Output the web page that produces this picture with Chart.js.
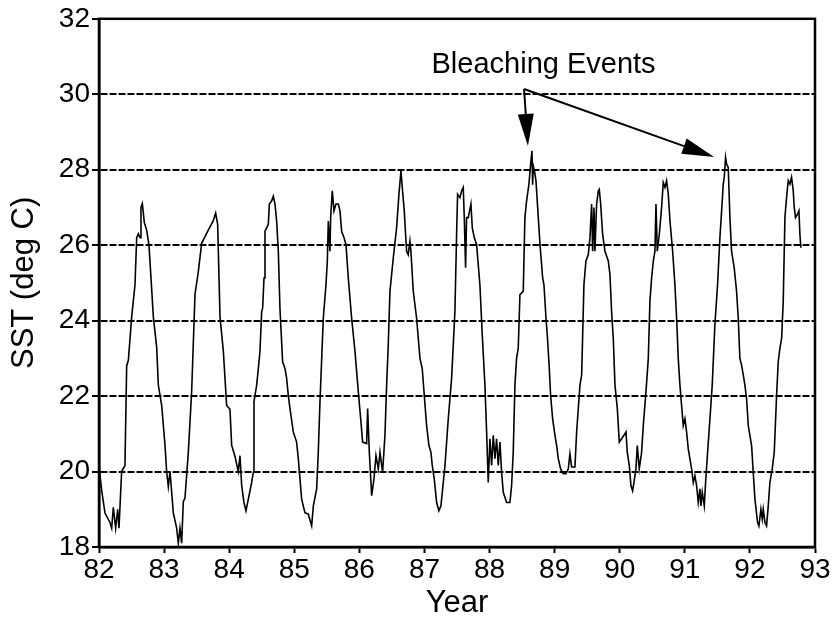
<!DOCTYPE html>
<html>
<head>
<meta charset="utf-8">
<script src="https://cdn.jsdelivr.net/npm/chart.js@4/dist/chart.umd.min.js"></script>
<style>
html,body{margin:0;padding:0;background:#fff;}
#wrap{width:834px;height:622px;}
</style>
</head>
<body>
<div id="wrap"><canvas id="c" width="834" height="622"></canvas></div>
<script>
const years = [
82.000,82.041,82.092,82.169,82.195,82.220,82.256,82.287,82.307,82.348,82.399,82.425,82.451,82.502,82.553,82.579,82.604,82.630,82.645,82.666,82.696,82.732,82.768,82.835,82.886,82.911,82.963,83.014,83.039,83.065,83.091,83.142,83.193,83.219,83.244,83.270,83.295,83.321,83.372,83.423,83.475,83.526,83.577,83.679,83.756,83.792,83.823,83.859,83.910,83.961,84.012,84.038,84.089,84.140,
84.166,84.192,84.227,84.258,84.294,84.320,84.345,84.371,84.381,84.422,84.448,84.473,84.499,84.514,84.535,84.550,84.601,84.617,84.652,84.678,84.704,84.729,84.755,84.780,84.821,84.857,84.883,84.908,84.934,84.985,85.036,85.062,85.088,85.113,85.164,85.216,85.267,85.293,85.344,85.369,85.395,85.446,85.487,85.508,85.523,85.548,85.559,85.584,85.610,85.641,85.677,85.702,85.728,85.764,85.794,85.830,85.881,85.933,85.984,86.020,86.050,86.112,86.127,86.153,86.189,86.224,86.255,86.291,86.317,86.357,86.393,86.419,
86.444,86.470,86.521,86.572,86.608,86.639,86.659,86.690,86.710,86.726,86.751,86.777,86.792,86.828,86.879,86.931,86.966,86.997,87.033,87.069,87.100,87.120,87.151,87.187,87.222,87.253,87.289,87.315,87.366,87.417,87.443,87.468,87.494,87.509,87.545,87.571,87.596,87.612,87.632,87.647,87.673,87.714,87.735,87.765,87.801,87.852,87.888,87.929,87.955,87.980,88.006,88.032,88.057,88.083,88.108,88.134,88.160,88.185,88.211,88.262,88.313,88.339,88.364,88.390,88.415,88.441,88.467,88.518,88.543,88.569,88.605,88.636,88.652,
88.662,88.672,88.690,88.713,88.749,88.775,88.816,88.836,88.867,88.887,88.918,88.938,88.969,89.005,89.031,89.056,89.092,89.133,89.174,89.210,89.235,89.261,89.312,89.338,89.389,89.415,89.450,89.481,89.517,89.543,89.568,89.584,89.604,89.619,89.645,89.671,89.686,89.707,89.737,89.773,89.824,89.850,89.875,89.901,89.927,89.963,89.993,90.029,90.065,90.096,90.116,90.147,90.172,90.198,90.219,90.249,90.270,90.300,90.336,90.362,90.403,90.439,90.464,90.490,90.516,90.541,90.557,90.577,90.608,90.643,90.669,90.695,90.720,90.746,90.772,90.813,
90.848,90.874,90.899,90.925,90.950,90.976,91.002,91.027,91.053,91.078,91.104,91.130,91.155,91.181,91.206,91.232,91.247,91.268,91.299,91.319,91.350,91.386,91.421,91.462,91.503,91.539,91.575,91.590,91.606,91.626,91.642,91.667,91.693,91.718,91.759,91.795,91.821,91.846,91.872,91.898,91.923,91.949,91.975,92.026,92.051,92.077,92.118,92.138,92.169,92.190,92.205,92.231,92.256,92.282,92.307,92.343,92.374,92.410,92.435,92.461,92.487,92.512,92.538,92.563,92.589,92.615,92.640,92.666,92.681,92.701,92.732,92.753,92.768,92.783
];
const sst = [
20.16,19.5,18.9,18.65,18.5,19.05,18.5,19.0,18.5,20.0,20.16,22.8,22.95,24.1,24.95,26.2,26.3,26.2,27.0,27.1,26.6,26.4,26.0,24.1,23.3,22.3,21.75,20.7,20.0,19.6,20.0,18.9,18.5,18.1,18.5,18.1,19.2,19.3,20.5,22.1,24.7,25.3,26.05,26.4,26.65,26.85,26.55,24.1,23.2,21.75,21.65,20.7,20.4,20.0,
20.42,19.63,19.18,18.96,19.27,19.49,19.71,19.98,21.85,22.29,22.73,23.18,24.24,24.33,25.13,26.37,26.55,27.09,27.17,27.3,27.09,26.64,25.84,24.33,22.91,22.73,22.47,22.02,21.67,21.05,20.78,20.34,19.8,19.27,18.91,18.87,18.56,19.09,19.54,20.51,21.85,24.07,24.95,25.58,26.64,25.84,26.73,27.44,26.91,27.09,27.09,26.91,26.37,26.2,26.02,25.13,24.07,23.18,22.11,21.4,20.78,20.74,21.67,20.51,19.36,19.8,20.42,20.07,20.51,19.98,20.96,22.29,
23.36,24.78,25.66,26.46,27.35,27.97,27.53,26.91,26.29,25.84,25.75,26.11,25.84,24.78,24.07,23.0,22.73,22.02,21.22,20.69,20.51,20.16,19.8,19.18,18.96,19.09,19.71,20.16,21.4,22.47,23.36,24.24,26.29,27.35,27.26,27.44,27.53,26.73,25.4,26.73,26.73,27.09,26.46,26.2,26.02,24.95,23.62,22.29,21.05,19.71,20.87,20.16,20.96,20.34,20.87,20.16,20.78,19.98,19.45,19.18,19.18,19.63,20.51,22.29,23.0,23.27,24.69,24.78,26.73,27.17,27.62,28.24,28.5,
27.6,28.1,27.97,27.71,26.73,26.02,25.13,24.95,24.07,23.62,22.73,22.02,21.4,20.96,20.69,20.34,20.07,19.94,19.94,20.07,20.47,20.12,20.12,21.05,22.29,22.56,24.95,25.58,25.75,26.2,27.09,25.84,27.0,25.84,27.09,27.44,27.48,27.09,26.29,25.84,25.58,25.22,24.24,23.53,22.29,21.67,20.78,20.87,20.96,21.05,20.51,20.16,19.63,19.49,19.71,20.07,20.69,20.07,20.51,21.22,22.11,23.0,24.51,25.13,25.58,25.84,27.09,25.84,26.29,27.0,27.66,27.53,27.71,27.35,26.64,25.84,
24.95,24.07,23.0,22.29,21.76,21.22,21.4,21.05,20.6,20.34,20.07,19.71,19.89,19.63,19.18,19.54,19.09,19.45,19.09,19.71,20.51,21.4,22.29,23.89,24.95,26.2,27.17,27.62,27.8,28.33,28.15,28.06,26.73,25.84,25.4,24.78,24.07,23.0,22.82,22.56,22.29,21.93,21.22,20.69,19.98,19.27,18.65,18.56,19.0,18.74,19.0,18.65,18.56,19.09,19.71,20.07,20.51,22.02,22.91,23.27,23.53,24.51,26.73,27.26,27.71,27.62,27.8,27.44,27.0,26.73,26.82,26.91,26.29,25.93
];
const xTickValues = [82,83,84,85,86,87,88,89,90,91,92,93];
const yTickValues = [18,20,22,24,26,28,30,32];
const xTitle = 'Year';
const yTitle = 'SST (deg C)';
const annotationText = 'Bleaching Events';
const annotationTextAt = {x: 88.83, y: 30.57};
const arrowFrom = {x: 88.53, y: 30.14};
const arrowTips = [{x: 88.59, y: 28.63}, {x: 91.45, y: 28.34}];

const FONT = "'Liberation Sans', Arial, Helvetica, sans-serif";

const framePlugin = {
  id: 'frame',
  afterDraw(chart) {
    const {ctx, chartArea: a} = chart;
    ctx.save();
    ctx.strokeStyle = '#000';
    ctx.lineWidth = 2.5;
    ctx.strokeRect(a.left, a.top, a.right - a.left, a.bottom - a.top);
    ctx.restore();
  }
};

function drawArrow(ctx, x1, y1, x2, y2, headLen, headHalf) {
  const ang = Math.atan2(y2 - y1, x2 - x1);
  const bx = x2 - headLen * Math.cos(ang), by = y2 - headLen * Math.sin(ang);
  ctx.beginPath();
  ctx.moveTo(x1, y1);
  ctx.lineTo(bx, by);
  ctx.stroke();
  ctx.beginPath();
  ctx.moveTo(x2, y2);
  ctx.lineTo(bx + headHalf * Math.sin(ang), by - headHalf * Math.cos(ang));
  ctx.lineTo(bx - headHalf * Math.sin(ang), by + headHalf * Math.cos(ang));
  ctx.closePath();
  ctx.fill();
}

const annotationPlugin = {
  id: 'bleach',
  afterDraw(chart) {
    const {ctx, scales: {x, y}} = chart;
    ctx.save();
    ctx.fillStyle = '#000';
    ctx.strokeStyle = '#000';
    ctx.font = "29px " + FONT;
    ctx.textAlign = 'center';
    ctx.textBaseline = 'alphabetic';
    ctx.fillText(annotationText, x.getPixelForValue(annotationTextAt.x), y.getPixelForValue(annotationTextAt.y));
    ctx.lineWidth = 2;
    const fx = x.getPixelForValue(arrowFrom.x), fy = y.getPixelForValue(arrowFrom.y);
    arrowTips.forEach(t => {
      drawArrow(ctx, fx, fy, x.getPixelForValue(t.x), y.getPixelForValue(t.y), 32, 8);
    });
    ctx.restore();
  }
};

new Chart(document.getElementById('c'), {
  type: 'line',
  data: {
    datasets: [{
      data: years.map((v, i) => ({x: v, y: sst[i]})),
      borderColor: '#000',
      borderWidth: 1.6,
      pointRadius: 0,
      tension: 0,
      fill: false
    }]
  },
  options: {
    responsive: false,
    animation: false,
    events: [],
    layout: {padding: {top: 18, right: 19, left: 0, bottom: 0}},
    plugins: {legend: {display: false}, tooltip: {enabled: false}},
    scales: {
      x: {
        type: 'linear',
        min: 82, max: 93,
        afterBuildTicks: s => { s.ticks = xTickValues.map(v => ({value: v})); },
        afterFit: s => { s.height = 75; },
        grid: {drawOnChartArea: false, drawTicks: true, tickLength: 6, tickColor: '#000', tickWidth: 2},
        border: {display: true, color: '#000', width: 2.5},
        ticks: {color: '#000', padding: 0, maxRotation: 0, autoSkip: false, font: {family: FONT, size: 28}},
        title: {display: true, text: xTitle, color: '#000', padding: {top: 0, bottom: 0}, font: {family: FONT, size: 31}}
      },
      y: {
        type: 'linear',
        min: 18, max: 32,
        afterBuildTicks: s => { s.ticks = yTickValues.map(v => ({value: v})); },
        afterFit: s => { s.width = 99; },
        grid: {
          drawOnChartArea: true, drawTicks: true, tickLength: 7,
          color: c => (c.tick && (c.tick.value === 18 || c.tick.value === 32)) ? 'rgba(0,0,0,0)' : '#000',
          lineWidth: 2, tickColor: '#000', tickWidth: 2
        },
        border: {display: true, color: '#000', width: 2.5, dash: [7, 2]},
        ticks: {color: '#000', padding: 2, autoSkip: false, font: {family: FONT, size: 28}},
        title: {display: true, text: yTitle, color: '#000', padding: {top: 6, bottom: 0}, font: {family: FONT, size: 31}}
      }
    }
  },
  plugins: [framePlugin, annotationPlugin]
});
</script>
</body>
</html>
